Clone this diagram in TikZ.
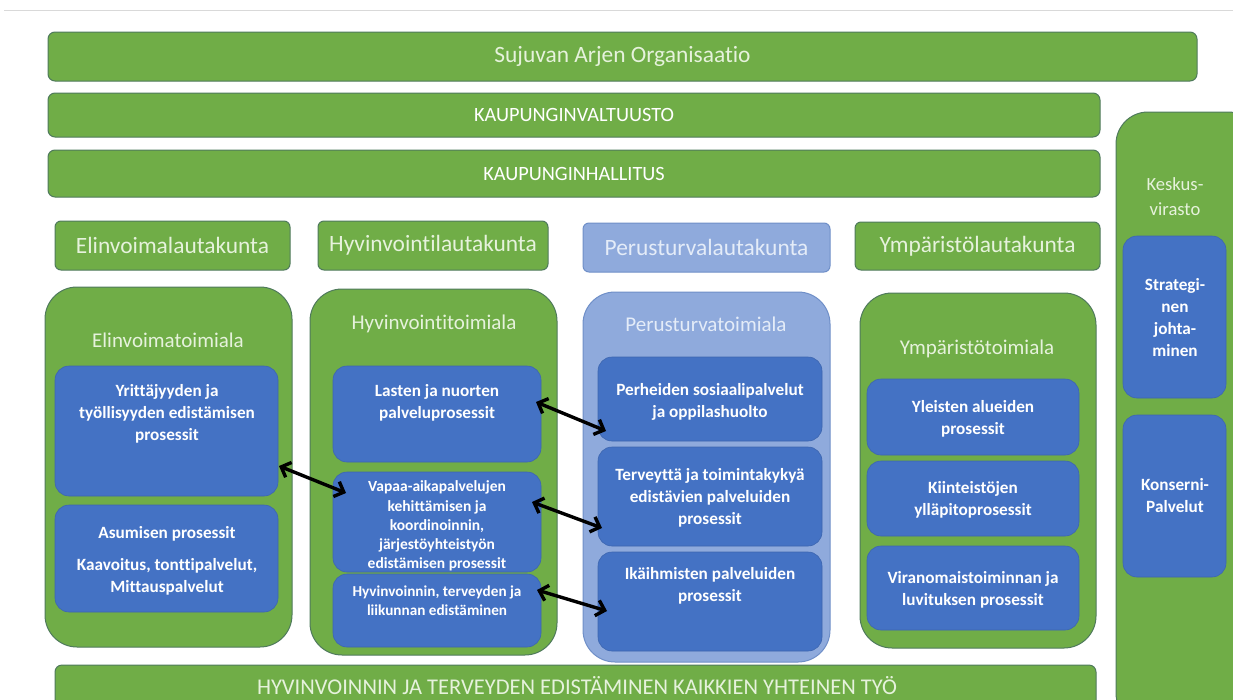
\documentclass[tikz,border=0pt]{standalone}
\usepackage{fontspec}
\setmainfont{Carlito}[Ligatures={NoCommon}]
\usetikzlibrary{arrows.meta}
\definecolor{grn}{HTML}{70AD47}
\definecolor{grnB}{HTML}{4F7A5C}
\definecolor{blu}{HTML}{4472C4}
\definecolor{bluB}{HTML}{3D66B0}
\definecolor{lblu}{HTML}{8FAADC}
\definecolor{lbluB}{HTML}{6F8FC8}
\definecolor{gtxt}{HTML}{E6F2DC}
\definecolor{ptxt}{HTML}{E4ECF8}
\definecolor{rule}{HTML}{D9D9D9}
\newcommand{\fs}[2]{\fontsize{#1}{#2}\selectfont}
\newcommand{\boxat}[7]{\node[#1, minimum width={#5-#3}, minimum height={#6-#4}] (#2) at ({(#3+#5)/2},{(#4+#6)/2}) {#7};}
\tikzset{
  base/.style={inner sep=0pt, outer sep=0pt},
  bar/.style={base, draw=grnB, line width=1pt, fill=grn, rounded corners=7pt},
  lbox/.style={base, draw=grnB, line width=1pt, fill=grn, rounded corners=6pt},
  plbox/.style={base, draw=lbluB, line width=1pt, fill=lblu, rounded corners=6pt},
  cont/.style={base, draw=grnB, line width=1pt, fill=grn, rounded corners=32pt},
  pcont/.style={base, draw=lbluB, line width=1pt, fill=lblu, rounded corners=32pt},
  bb/.style={base, fill=blu, draw=bluB, line width=0.6pt, rounded corners=14pt},
  wt/.style={base, text=white, align=center, font=\bfseries\fs{17.2}{22}},
  ht/.style={base, text=gtxt, font=\fs{21}{24}},
  dbl/.style={{Straight Barb[length=8pt,width=16pt]}-{Straight Barb[length=8pt,width=16pt]}, line width=3.4pt, black}
}
\begin{document}
\begin{tikzpicture}[x=1pt,y=-1pt]
\useasboundingbox (0,0) rectangle (1233,699);
\clip (0,0) rectangle (1233,699);
\fill[white] (0,0) rectangle (1233,699);
\draw[rule, line width=1pt] (4,10) coordinate (r1) -- (1233,10) coordinate (r2);

% top bars
\boxat{bar}{org}{48}{32}{1197}{81}{}
\node[ht, font=\fs{23.4}{26}] (orgt) at (org.center) {Sujuvan Arjen Organisaatio};
\boxat{bar}{val}{48}{93}{1100}{137}{}
\node[ht, text=white, font=\fs{20.3}{22}] (valt) at (val.center) {KAUPUNGINVALTUUSTO};
\boxat{bar}{hal}{48}{150}{1100}{197}{}
\node[ht, text=white, font=\fs{20.3}{22}] (halt) at (hal.center) {KAUPUNGINHALLITUS};

% Keskusvirasto column
\boxat{cont}{kes}{1116}{112}{1260}{725}{}
\node[ht, font=\fs{18.6}{25}, align=center] (kest) at (1175,197) {Keskus-\\virasto};
\boxat{bb}{str}{1123}{236}{1226}{398}{}
\node[wt] (strt) at (1175,318) {Strategi-\\nen\\johta-\\minen};
\boxat{bb}{kon}{1123}{415}{1226}{577}{}
\node[wt] (kont) at (1175,496) {Konserni-\\Palvelut};

% lautakunnat
\boxat{lbox}{lel}{55}{221}{290}{270}{}
\node[ht, font=\fs{23.4}{26}] (lelt) at (lel.center) {Elinvoimalautakunta};
\boxat{lbox}{lhy}{318}{221}{548}{270}{}
\node[ht, font=\fs{23.4}{26}] (lhyt) at (lhy.center) {Hyvinvointilautakunta};
\boxat{plbox}{lpe}{583}{223}{830}{272}{}
\node[ht, text=ptxt, font=\fs{23.4}{26}] (lpet) at (lpe.center) {Perusturvalautakunta};
\boxat{lbox}{lym}{855}{222}{1100}{270}{}
\node[ht, font=\fs{23.4}{26}] (lymt) at (lym.center) {Ympäristölautakunta};

% toimialat
\boxat{cont}{tel}{45}{287}{292}{647}{}
\node[ht] (telt) at (168,340) {Elinvoimatoimiala};
\boxat{cont}{thy}{310}{289}{557}{655}{}
\node[ht] (thyt) at (434,324) {Hyvinvointitoimiala};
\boxat{pcont}{tpe}{583}{292}{830}{662}{}
\node[ht, text=ptxt] (tpet) at (706,324) {Perusturvatoimiala};
\boxat{cont}{tym}{860}{293}{1096}{648}{}
\node[ht] (tymt) at (977,349) {Ympäristötoimiala};

% Elinvoima processes
\boxat{bb}{yri}{55}{366}{278}{496}{}
\node[wt] (yrit) at (167,414) {Yrittäjyyden ja\\työllisyyden edistämisen\\prosessit};
\boxat{bb}{asu}{55}{505}{278}{612}{}
\node[wt] (asut) at (167,534) {Asumisen prosessit};
\node[wt] (kaat) at (167,577) {Kaavoitus, tonttipalvelut,\\Mittauspalvelut};

% Hyvinvointi processes
\boxat{bb}{las}{333}{366}{541}{462}{}
\node[wt] (last) at (437,403) {Lasten ja nuorten\\palveluprosessit};
\boxat{bb}{vap}{333}{472}{541}{572}{}
\node[wt, font=\bfseries\fs{15.5}{19.2}] (vapt) at (437,526) {Vapaa-aikapalvelujen\\kehittämisen ja\\koordinoinnin,\\järjestöyhteistyön\\edistämisen prosessit};
\boxat{bb}{hyv}{333}{574}{541}{647}{}
\node[wt, font=\bfseries\fs{15.2}{19}] (hyvt) at (437,601) {Hyvinvoinnin, terveyden ja\\liikunnan edistäminen};

% Perusturva processes
\boxat{bb}{per}{598}{357}{822}{441}{}
\node[wt] (pert) at (710,402) {Perheiden sosiaalipalvelut\\ja oppilashuolto};
\boxat{bb}{ter}{598}{447}{822}{546}{}
\node[wt] (tert) at (710,498) {Terveyttä ja toimintakykyä\\edistävien palveluiden\\prosessit};
\boxat{bb}{ika}{598}{552}{822}{651}{}
\node[wt] (ikat) at (710,586) {Ikäihmisten palveluiden\\prosessit};

% Ympäristö processes
\boxat{bb}{yle}{867}{379}{1079}{455}{}
\node[wt] (ylet) at (973,419) {Yleisten alueiden\\prosessit};
\boxat{bb}{kii}{867}{461}{1079}{536}{}
\node[wt] (kiit) at (973,500) {Kiinteistöjen\\ylläpitoprosessit};
\boxat{bb}{vir}{867}{546}{1079}{630}{}
\node[wt] (virt) at (973,590) {Viranomaistoiminnan ja\\luvituksen prosessit};

% bottom bar
\boxat{bar}{yht}{55}{665}{1096}{720}{}
\node[ht, font=\fs{22.5}{24}] (yhtt) at (577,686) {HYVINVOINNIN JA TERVEYDEN EDISTÄMINEN KAIKKIEN YHTEINEN TYÖ};

% arrows
\coordinate (a1) at (279,466);
\coordinate (b1) at (346,493);
\coordinate (a2) at (536,402);
\coordinate (b2) at (606,431);
\coordinate (a3) at (532,502);
\coordinate (b3) at (602,528);
\coordinate (a4) at (537,590);
\coordinate (b4) at (607,611);
\draw[dbl] (a1) -- (b1);
\draw[dbl] (a2) -- (b2);
\draw[dbl] (a3) -- (b3);
\draw[dbl] (a4) -- (b4);
\end{tikzpicture}
\end{document}
